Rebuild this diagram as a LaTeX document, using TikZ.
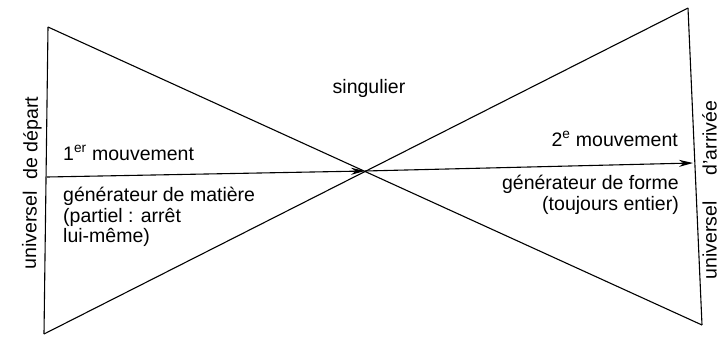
\documentclass[tikz,border=0pt]{standalone}
\usepackage{fontspec}
\newfontfamily\diafont{Liberation Sans}
\usepackage{tikz}
\usetikzlibrary{arrows.meta, positioning}

\begin{document}
\begin{tikzpicture}[x=1pt, y=-1pt,
            trait/.style={line width=1.1pt},
            fleche/.style={line width=1.1pt, -{Stealth[length=14pt, width=7pt]}},
            etiq/.style={font=\diafont\fontsize{19.5}{20.5}\selectfont, inner sep=0pt}]

            \clip (0,0) rectangle (721,338);

            % sommets des deux triangles
            \coordinate (hg) at (48,27);
            \coordinate (bg) at (44,334);
            \coordinate (hd) at (688,8);
            \coordinate (bd) at (702,325);
            \coordinate (centre) at (365,171);
            \coordinate (depart) at (47,177);
            \coordinate (arrivee) at (693,163);

            \draw[trait] (hg) -- (bg);
            \draw[trait] (hd) -- (bd);
            \draw[trait] (hg) -- (bd);
            \draw[trait] (bg) -- (hd);

            \draw[fleche] (depart) -- (centre);
            \draw[fleche] (centre) -- (arrivee);

            \node[etiq, anchor=base] (sing) at (369,93) {singulier};
            \node[etiq, anchor=base west] (mvt1) at (63,160) {1\textsuperscript{er} mouvement};
            \node[etiq, anchor=north west, align=left] (matiere) at (63,187) {générateur de matière\\(partiel : arrêt\\lui-même)};
            \node[etiq, anchor=base east] (mvt2) at (678,146) {2\textsuperscript{e} mouvement};
            \node[etiq, anchor=north east, align=right] (forme) at (679,175) {générateur de forme\\(toujours entier)};

            \node[etiq, rotate=89.3, anchor=base] (univ1) at (37,183) {universel\hspace{12pt}de départ};
            \node[etiq, rotate=90, anchor=base] (univ2) at (716.5,190) {universel\hspace{26pt}d’arrivée};
        \end{tikzpicture}
\end{document}
